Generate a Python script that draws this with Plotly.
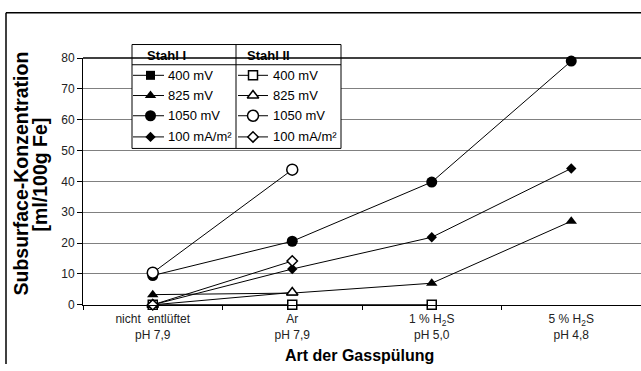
import plotly.graph_objects as go

W, H = 641, 371

categories = ["nicht  entlüftet<br>pH 7,9", "Ar<br>pH 7,9",
              "1 % H<sub>2</sub>S<br>pH 5,0", "5 % H<sub>2</sub>S<br>pH 4,8"]

# Stahl I (filled markers)
s1_400 = [0, 0, 0, None]
s1_825 = [3.3, 3.8, 7.0, 27.1]
s1_1050 = [9.5, 20.6, 39.8, 79.0]
s1_100mA = [0, 11.6, 21.9, 44.2]

# Stahl II (open markers)
s2_400 = [0, 0, 0, None]
s2_825 = [0, 4.0, None, None]
s2_1050 = [10.4, 43.8, None, None]
s2_100mA = [0, 14.2, None, None]

legend_labels = ["400 mV", "825 mV", "1050 mV", "100 mA/m²"]
symbols = ["square", "triangle-up", "circle", "diamond"]
sizes = [9, 10, 11, 8]

FONT = "Liberation Sans, Arial, sans-serif"

PL, PR, PT, PB = 83, 641, 53, 309.5

def px(x):
    return x / W

def py(y):
    return 1 - y / H

fig = go.Figure()

series1 = [s1_400, s1_825, s1_1050, s1_100mA]
series2 = [s2_400, s2_825, s2_1050, s2_100mA]

for vals, sym, sz, lab in zip(series1, symbols, sizes, legend_labels):
    fig.add_trace(go.Scatter(
        x=categories, y=vals, mode="lines+markers", name="Stahl I " + lab,
        line=dict(color="black", width=1), connectgaps=False,
        marker=dict(symbol=sym, size=sz, color="black", line=dict(width=0)),
        showlegend=False, cliponaxis=False))
for vals, sym, sz, lab in zip(series2, symbols, sizes, legend_labels):
    fig.add_trace(go.Scatter(
        x=categories, y=vals, mode="lines+markers", name="Stahl II " + lab,
        line=dict(color="black", width=1), connectgaps=False,
        marker=dict(symbol=sym, size=sz, color="white", line=dict(color="black", width=1.5)),
        showlegend=False, cliponaxis=False))

BX0, BX1, BY0, BY1 = 132, 341, 39, 147
BMID = 236
HDR = 60
rows_y = [71, 92, 113, 135]

fig.add_trace(go.Scatter(
    x=[BX0, BX1, BX1, BX0, BX0], y=[BY0, BY0, BY1, BY1, BY0],
    mode="lines", fill="toself", fillcolor="white",
    line=dict(color="black", width=1), xaxis="x2", yaxis="y2",
    showlegend=False, hoverinfo="skip"))
fig.add_trace(go.Scatter(
    x=[BMID, BMID, None, BX0, BX1], y=[BY0, BY1, None, HDR, HDR],
    mode="lines", line=dict(color="black", width=1), xaxis="x2", yaxis="y2",
    showlegend=False, hoverinfo="skip"))

for i, (sym, sz) in enumerate(zip(symbols, sizes)):
    ry = rows_y[i]
    for (l0, l1, mx, fill, lw) in [(133, 164, 150.5, "black", 0), (238, 268, 253, "white", 1.5)]:
        fig.add_trace(go.Scatter(
            x=[l0, l1], y=[ry, ry], mode="lines", line=dict(color="black", width=1),
            xaxis="x2", yaxis="y2", showlegend=False, hoverinfo="skip"))
        fig.add_trace(go.Scatter(
            x=[mx], y=[ry], mode="markers",
            marker=dict(symbol=sym, size=sz, color=fill, line=dict(color="black", width=lw)),
            xaxis="x2", yaxis="y2", showlegend=False, hoverinfo="skip"))

annotations = []
for tx, t in ((145, "<b>Stahl I</b>"), (245, "<b>Stahl II</b>")):
    annotations.append(dict(x=tx, y=50, xref="x2", yref="y2", text=t,
                            showarrow=False, xanchor="left", yanchor="middle",
                            font=dict(family=FONT, size=13, color="black")))
for i, lab in enumerate(legend_labels):
    for tx in (166, 271):
        annotations.append(dict(x=tx, y=rows_y[i], xref="x2", yref="y2", text=lab,
                                showarrow=False, xanchor="left", yanchor="middle",
                                font=dict(family=FONT, size=13, color="black")))

annotations.append(dict(x=px(359), y=py(362), xref="paper", yref="paper",
                        text="<b>Art der Gasspülung</b>", showarrow=False,
                        xanchor="center", yanchor="middle",
                        font=dict(family=FONT, size=16, color="black")))
annotations.append(dict(x=px(21), y=py(173), xref="paper", yref="paper",
                        text="<b>Subsurface-Konzentration</b>",
                        showarrow=False, textangle=-90, xanchor="center", yanchor="middle",
                        font=dict(family=FONT, size=19.5, color="black")))
annotations.append(dict(x=px(40), y=py(174), xref="paper", yref="paper",
                        text="<b>[ml/100g Fe]</b>",
                        showarrow=False, textangle=-90, xanchor="center", yanchor="middle",
                        font=dict(family=FONT, size=19.5, color="black")))

shapes = [
    dict(type="line", xref="paper", yref="paper", x0=px(PL), x1=1, y0=py(PT), y1=py(PT),
         line=dict(color="black", width=1.5)),
    dict(type="line", xref="paper", yref="paper", x0=px(6), x1=px(6), y0=py(6), y1=0,
         line=dict(color="black", width=1.5)),
    dict(type="line", xref="paper", yref="paper", x0=px(6), x1=1, y0=py(6), y1=py(6),
         line=dict(color="black", width=1.5)),
]

fig.update_layout(
    width=W, height=H,
    margin=dict(l=0, r=0, t=0, b=0),
    paper_bgcolor="white", plot_bgcolor="rgba(0,0,0,0)",
    showlegend=False,
    font=dict(family=FONT, size=11, color="black"),
    xaxis=dict(domain=[px(PL), 1], type="category", categoryorder="array",
               categoryarray=categories, range=[-0.5, 3.5],
               showline=True, linecolor="black", linewidth=1,
               ticks="outside", tickson="boundaries", ticklen=4, tickcolor="black",
               ticklabelstandoff=3,
               showgrid=False, zeroline=False,
               tickfont=dict(family=FONT, size=12, color="#222")),
    yaxis=dict(domain=[py(PB), py(PT)], range=[0, 80], dtick=10,
               showline=True, linecolor="black", linewidth=1,
               ticks="outside", ticklen=5, tickcolor="black",
               showgrid=True, gridcolor="#808080", gridwidth=1, zeroline=False,
               tickfont=dict(family=FONT, size=12, color="#222")),
    xaxis2=dict(domain=[0, 1], range=[0, W], visible=False, anchor="y2", fixedrange=True),
    yaxis2=dict(domain=[0, 1], range=[H, 0], visible=False, anchor="x2", fixedrange=True),
    annotations=annotations,
    shapes=shapes,
)

fig.write_html("out.html", config={"displayModeBar": False},
               post_script="document.body.style.margin='0';document.body.style.padding='0';"
                           "document.body.style.overflow='hidden';"
                           "document.documentElement.style.overflow='hidden';")
